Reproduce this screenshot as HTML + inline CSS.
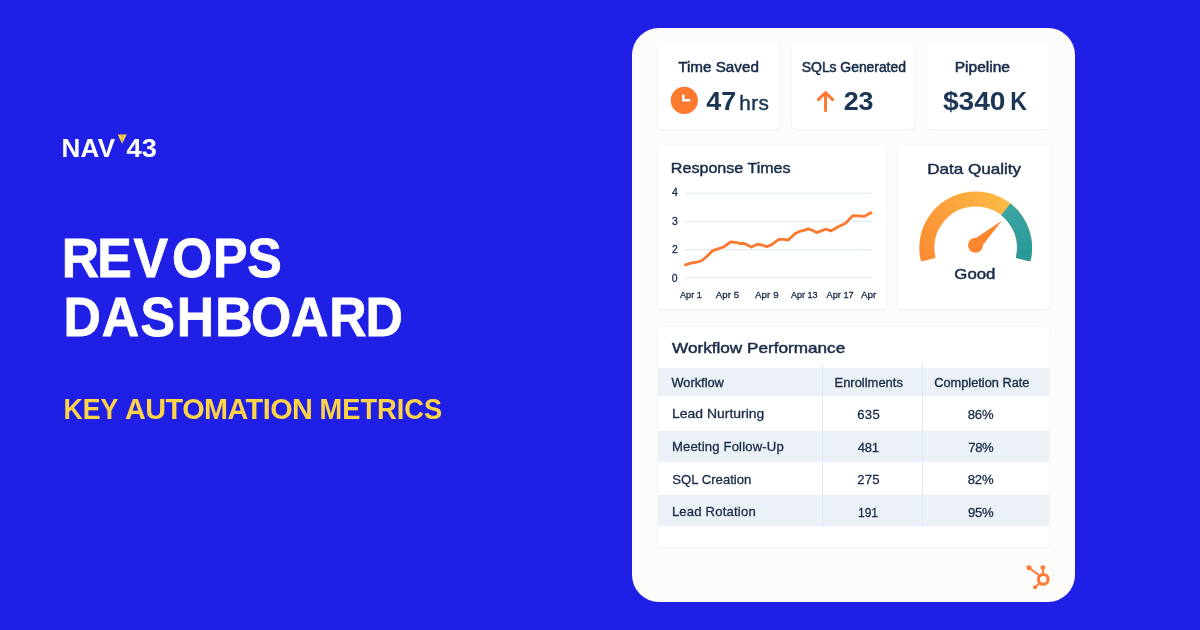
<!DOCTYPE html>
<html lang="en">
<head>
<meta charset="utf-8">
<title>RevOps Dashboard – Key Automation Metrics</title>
<style>
*{box-sizing:border-box;margin:0;padding:0}
html,body{width:1200px;height:630px;overflow:hidden}
body{background:#1f1fe6;font-family:"Liberation Sans",Arial,sans-serif;color:#182b48;position:relative}
.t{position:absolute;white-space:pre;display:block;transform-origin:0 0}
.card{position:absolute;left:632px;top:28px;width:443px;height:574px;border-radius:27px;background:#fdfcfb}
.tile{position:absolute;background:#fff;border-radius:4px;box-shadow:0 1px 3px rgba(70,55,45,.06),0 0 1px rgba(70,55,45,.04)}
.row{position:absolute;left:657.9px;width:391.4px;background:#ebf1f6}
.vline{position:absolute;width:1px;background:#e1e9f0;top:363.5px;height:163px}
svg{position:absolute;left:0;top:0;overflow:visible}
</style>
</head>
<body>
<header>
<span class="t" style="left:61.45px;top:134.89px;letter-spacing:0.359px;font-size:26.0px;line-height:26.0px;font-weight:700;color:#ffffff;">NAV</span>
<svg width="1200" height="630" viewBox="0 0 1200 630" aria-hidden="true">
<path d="M117.7 134.6 L126.8 134.6 L122.1 143.7 Z" fill="#fdd544"/>
<path d="M122.3 134.9 L122.2 143.2" stroke="#8f8577" stroke-width="0.5" fill="none"/>
</svg>
<span class="t" style="left:126px;top:134.89px;transform:translateX(0.60px) scaleX(1.0454);font-size:26.0px;line-height:26.0px;font-weight:700;color:#ffffff;">43</span>
</header>
<h1><svg width="1200" height="630" viewBox="0 0 1200 630" role="img" aria-label="REVOPS DASHBOARD" style="font-family:'Liberation Sans',Arial,sans-serif"><text transform="scale(0.93,1)" x="66.28 104.52 143.63 185.09 229.17 265.90" y="277.0" font-size="55.7" font-weight="700" fill="#fff" stroke="#fff" stroke-width="0.8">REVOPS</text><text transform="scale(0.93,1)" x="68.28 109.34 151.06 190.17 231.55 269.87 312.83 354.08 392.96" y="336.0" font-size="55.7" font-weight="700" fill="#fff" stroke="#fff" stroke-width="0.8">DASHBOARD</text></svg></h1>
<h2><span class="t" style="left:63px;top:394.92px;transform:translateX(0.41px) scaleX(0.9258);font-size:28.8px;line-height:28.8px;font-weight:700;color:#ffd447;">KEY</span> <span class="t" style="left:125.09px;top:394.92px;letter-spacing:-0.531px;font-size:28.8px;line-height:28.8px;font-weight:700;color:#ffd447;">AUTOMATION</span> <span class="t" style="left:319px;top:394.92px;transform:translateX(0.59px) scaleX(0.9458);font-size:28.8px;line-height:28.8px;font-weight:700;color:#ffd447;">METRICS</span></h2>
<main class="card"></main>
<section>
<div class="tile k1" style="left:658px;top:43.2px;width:121.3px;height:85.8px"></div>
<div class="tile k2" style="left:792.3px;top:43.2px;width:121.6px;height:85.8px"></div>
<div class="tile k3" style="left:927px;top:43.2px;width:122.4px;height:85.8px"></div>
<span class="t" style="left:678px;top:59.95px;transform:translateX(0.14px) scaleX(1.0883);font-size:14.0px;line-height:14.0px;-webkit-text-stroke:0.5px currentColor;">Time Saved</span><span class="t" style="left:706px;top:89.01px;transform:translateX(0.33px) scaleX(1.0551);font-size:25.5px;line-height:25.5px;font-weight:700;color:#1a3654;">47</span><span class="t" style="left:739.37px;top:93.07px;letter-spacing:0.354px;font-size:20.7px;line-height:20.7px;color:#1a3654;-webkit-text-stroke:0.45px currentColor;">hrs</span>
<span class="t" style="left:801.84px;top:59.95px;letter-spacing:-0.074px;font-size:14.0px;line-height:14.0px;-webkit-text-stroke:0.5px currentColor;">SQLs Generated</span><span class="t" style="left:843px;top:89.02px;transform:translateX(0.67px) scaleX(1.0503);font-size:25.6px;line-height:25.6px;font-weight:700;color:#1a3654;">23</span>
<span class="t" style="left:954px;top:59.95px;transform:translateX(0.66px) scaleX(1.1106);font-size:14.0px;line-height:14.0px;-webkit-text-stroke:0.5px currentColor;">Pipeline</span><span class="t" style="left:942px;top:89.02px;transform:translateX(0.89px) scaleX(1.1002);font-size:25.6px;line-height:25.6px;font-weight:700;color:#1a3654;">$340</span><span class="t" style="left:1010px;top:89.02px;transform:translateX(0.36px) scaleX(0.9037);font-size:25.6px;line-height:25.6px;font-weight:700;color:#1a3654;">K</span>
<svg width="1200" height="630" viewBox="0 0 1200 630" aria-hidden="true">
<circle cx="684.3" cy="100.4" r="13.6" fill="#fc7930"/>
<path d="M683.3 94.4 V100.3 H690.2" fill="none" stroke="#fff" stroke-width="2.5" stroke-linejoin="miter"/>
<path d="M825.5 110.8 V92.9 M818.3 99.6 L825.5 92.6 L832.7 99.6" fill="none" stroke="#fc7930" stroke-width="2.9" stroke-linecap="round" stroke-linejoin="round"/>
</svg>
</section>
<section>
<div class="tile chart" style="left:658px;top:144.9px;width:228.0px;height:164.2px"></div>
<span class="t" style="left:670px;top:161.05px;transform:translateX(0.87px) scaleX(1.0943);font-size:14.7px;line-height:14.7px;-webkit-text-stroke:0.45px currentColor;">Response Times</span>
<svg width="1200" height="630" viewBox="0 0 1200 630" aria-hidden="true">
<g stroke="#e2ebf2" stroke-width="1.2">
<line x1="685" x2="872.3" y1="193.1" y2="193.1"/>
<line x1="685" x2="872.3" y1="221.3" y2="221.3"/>
<line x1="685" x2="872.3" y1="249.7" y2="249.7"/>
<line x1="685" x2="872.3" y1="277.5" y2="277.5"/>
</g>
<polyline points="685.4,264.9 690.7,263.1 697.9,261.9 702.0,260.5 706.8,256.5 712.7,250.6 718.1,248.8 723.5,247.0 730.6,241.9 737.1,242.6 739.5,243.5 744.3,243.5 751.4,247.0 757.4,244.3 762.1,245.0 766.9,246.7 771.7,244.6 776.4,241.1 779.2,239.3 783.9,239.4 788.3,240.0 795.0,233.7 799.4,231.4 803.9,230.3 808.3,228.9 811.7,230.0 816.7,232.6 821.7,230.6 825.6,229.2 831.1,230.8 838.3,226.7 845.6,223.3 852.8,215.6 858.3,215.9 864.4,216.3 871.1,212.8" fill="none" stroke="#fc7930" stroke-width="2.8" stroke-linejoin="round" stroke-linecap="round"/>
</svg>
<span class="t" style="left:671.89px;top:187.99px;font-size:10.4px;line-height:10.4px;-webkit-text-stroke:0.3px currentColor;">4</span><span class="t" style="left:672.05px;top:217.09px;font-size:10.4px;line-height:10.4px;-webkit-text-stroke:0.3px currentColor;">3</span><span class="t" style="left:671.94px;top:245.19px;font-size:10.4px;line-height:10.4px;-webkit-text-stroke:0.3px currentColor;">2</span><span class="t" style="left:671.87px;top:274.09px;font-size:10.4px;line-height:10.4px;-webkit-text-stroke:0.3px currentColor;">0</span>
<span class="t" style="left:680px;top:290.19px;transform:translateX(0.04px) scaleX(0.9397);font-size:9.7px;line-height:9.7px;-webkit-text-stroke:0.3px currentColor;">Apr 1</span><span class="t" style="left:715.79px;top:290.19px;letter-spacing:0.052px;font-size:9.7px;line-height:9.7px;-webkit-text-stroke:0.3px currentColor;">Apr 5</span><span class="t" style="left:754.92px;top:290.19px;letter-spacing:0.136px;font-size:9.7px;line-height:9.7px;-webkit-text-stroke:0.3px currentColor;">Apr 9</span><span class="t" style="left:790px;top:290.19px;transform:translateX(0.93px) scaleX(0.9320);font-size:9.7px;line-height:9.7px;-webkit-text-stroke:0.3px currentColor;">Apr 13</span><span class="t" style="left:826px;top:290.19px;transform:translateX(0.54px) scaleX(0.9512);font-size:9.7px;line-height:9.7px;-webkit-text-stroke:0.3px currentColor;">Apr 17</span><span class="t" style="left:860px;top:290.19px;transform:translateX(0.93px) scaleX(1.0257);font-size:9.7px;line-height:9.7px;-webkit-text-stroke:0.3px currentColor;">Apr</span>
</section>
<section>
<div class="tile gauge" style="left:898.0px;top:144.6px;width:151.5px;height:164.7px"></div>
<span class="t" style="left:927px;top:161.91px;transform:translateX(0.18px) scaleX(1.1856);font-size:14.4px;line-height:14.4px;-webkit-text-stroke:0.45px currentColor;">Data Quality</span>
<svg width="1200" height="630" viewBox="0 0 1200 630" aria-hidden="true">
<defs>
<linearGradient id="go" gradientUnits="userSpaceOnUse" x1="921" y1="262" x2="1008" y2="204"><stop offset="0" stop-color="#fc8a32"/><stop offset="1" stop-color="#fdba45"/></linearGradient>
<linearGradient id="gt" gradientUnits="userSpaceOnUse" x1="1005" y1="208" x2="1025" y2="262"><stop offset="0" stop-color="#3ba4a1"/><stop offset="1" stop-color="#28989b"/></linearGradient>
<clipPath id="tealclip"><polygon points="975.7,247.8 1025.0,184.8 1035.2,194.3 1043.5,205.4 1049.9,217.8 1054.0,231.2 1055.7,245.0 1054.9,258.9 1051.8,272.5 1046.3,285.4 1038.7,297.1 1033.1,303.6"/></clipPath>
</defs>
<path d="M921.98 260.05 A55.10 55.10 0 1 1 1029.42 260.05 L1017.30 256.99 A42.60 42.60 0 1 0 934.10 256.99 Z" fill="url(#go)" stroke="url(#go)" stroke-width="2.6" stroke-linejoin="round"/>
<path d="M921.98 260.05 A55.10 55.10 0 1 1 1029.42 260.05 L1017.30 256.99 A42.60 42.60 0 1 0 934.10 256.99 Z" fill="url(#gt)" stroke="url(#gt)" stroke-width="2.6" stroke-linejoin="round" clip-path="url(#tealclip)"/>
<path d="M1002.0 220.5 L979.45 249.45 L971.55 240.95 Z" fill="#fd8631"/>
<circle cx="975.5" cy="245.2" r="7.5" fill="#fd8631"/>
</svg>
<span class="t" style="left:954px;top:266.94px;transform:translateX(0.33px) scaleX(1.1499);font-size:14.6px;line-height:14.6px;-webkit-text-stroke:0.45px currentColor;">Good</span>
</section>
<section>
<div class="tile table" style="left:657.9px;top:326.7px;width:391.4px;height:220.5px"></div>
<span class="t" style="left:672px;top:341.01px;transform:translateX(0.00px) scaleX(1.1922);font-size:14.4px;line-height:14.4px;-webkit-text-stroke:0.45px currentColor;">Workflow Performance</span>
<div class="row" style="top:367.5px;height:28.1px"></div>
<div class="row" style="top:430.6px;height:31.5px"></div>
<div class="row" style="top:494.7px;height:31.6px"></div>
<div class="vline" style="left:822.2px"></div>
<div class="vline" style="left:922.2px"></div>
<span class="t" style="left:671px;top:377.17px;transform:translateX(0.49px) scaleX(1.0494);font-size:12.2px;line-height:12.2px;-webkit-text-stroke:0.35px currentColor;">Workflow</span><span class="t" style="left:834px;top:377.17px;transform:translateX(0.51px) scaleX(1.0620);font-size:12.2px;line-height:12.2px;-webkit-text-stroke:0.35px currentColor;">Enrollments</span><span class="t" style="left:934px;top:377.17px;transform:translateX(0.26px) scaleX(1.0483);font-size:12.2px;line-height:12.2px;-webkit-text-stroke:0.35px currentColor;">Completion Rate</span>
<span class="t" style="left:672px;top:407.11px;transform:translateX(0.11px) scaleX(1.0639);font-size:13.1px;line-height:13.1px;-webkit-text-stroke:0.3px currentColor;">Lead Nurturing</span><span class="t" style="left:857.29px;top:408.01px;letter-spacing:0.265px;font-size:13.1px;line-height:13.1px;-webkit-text-stroke:0.3px currentColor;">635</span><span class="t" style="left:967.73px;top:408.01px;letter-spacing:-0.188px;font-size:13.1px;line-height:13.1px;-webkit-text-stroke:0.3px currentColor;">86%</span>
<span class="t" style="left:671.89px;top:440.01px;letter-spacing:0.172px;font-size:13.1px;line-height:13.1px;-webkit-text-stroke:0.3px currentColor;">Meeting Follow-Up</span><span class="t" style="left:857.71px;top:441.01px;letter-spacing:-0.267px;font-size:13.1px;line-height:13.1px;-webkit-text-stroke:0.3px currentColor;">481</span><span class="t" style="left:968.34px;top:441.01px;letter-spacing:-0.456px;font-size:13.1px;line-height:13.1px;-webkit-text-stroke:0.3px currentColor;">78%</span>
<span class="t" style="left:672.26px;top:472.81px;letter-spacing:0.028px;font-size:13.1px;line-height:13.1px;-webkit-text-stroke:0.3px currentColor;">SQL Creation</span><span class="t" style="left:857.34px;top:473.01px;letter-spacing:0.197px;font-size:13.1px;line-height:13.1px;-webkit-text-stroke:0.3px currentColor;">275</span><span class="t" style="left:967.73px;top:473.01px;letter-spacing:-0.188px;font-size:13.1px;line-height:13.1px;-webkit-text-stroke:0.3px currentColor;">82%</span>
<span class="t" style="left:671.89px;top:505.01px;letter-spacing:0.192px;font-size:13.1px;line-height:13.1px;-webkit-text-stroke:0.3px currentColor;">Lead Rotation</span><span class="t" style="left:857px;top:506.01px;transform:translateX(0.97px) scaleX(0.9175);font-size:13.1px;line-height:13.1px;-webkit-text-stroke:0.3px currentColor;">191</span><span class="t" style="left:968.04px;top:506.01px;letter-spacing:-0.320px;font-size:13.1px;line-height:13.1px;-webkit-text-stroke:0.3px currentColor;">95%</span>
</section>
<svg width="1200" height="630" viewBox="0 0 1200 630" aria-hidden="true">
<g fill="none" stroke="#ff7a33" stroke-linecap="round">
<circle cx="1043.3" cy="579.4" r="4.85" stroke-width="3.1"/>
<path d="M1042.9 568 V574.5" stroke-width="1.9"/>
<path d="M1029.2 567.9 L1039.2 575.3" stroke-width="1.9"/>
<path d="M1035.3 587 L1039.6 583.2" stroke-width="1.9"/>
</g>
<g fill="#ff7a33">
<circle cx="1042.9" cy="567.6" r="2.35"/>
<circle cx="1029" cy="567.8" r="2.5"/>
<circle cx="1035" cy="587.3" r="1.95"/>
</g>
</svg>
</body>
</html>
